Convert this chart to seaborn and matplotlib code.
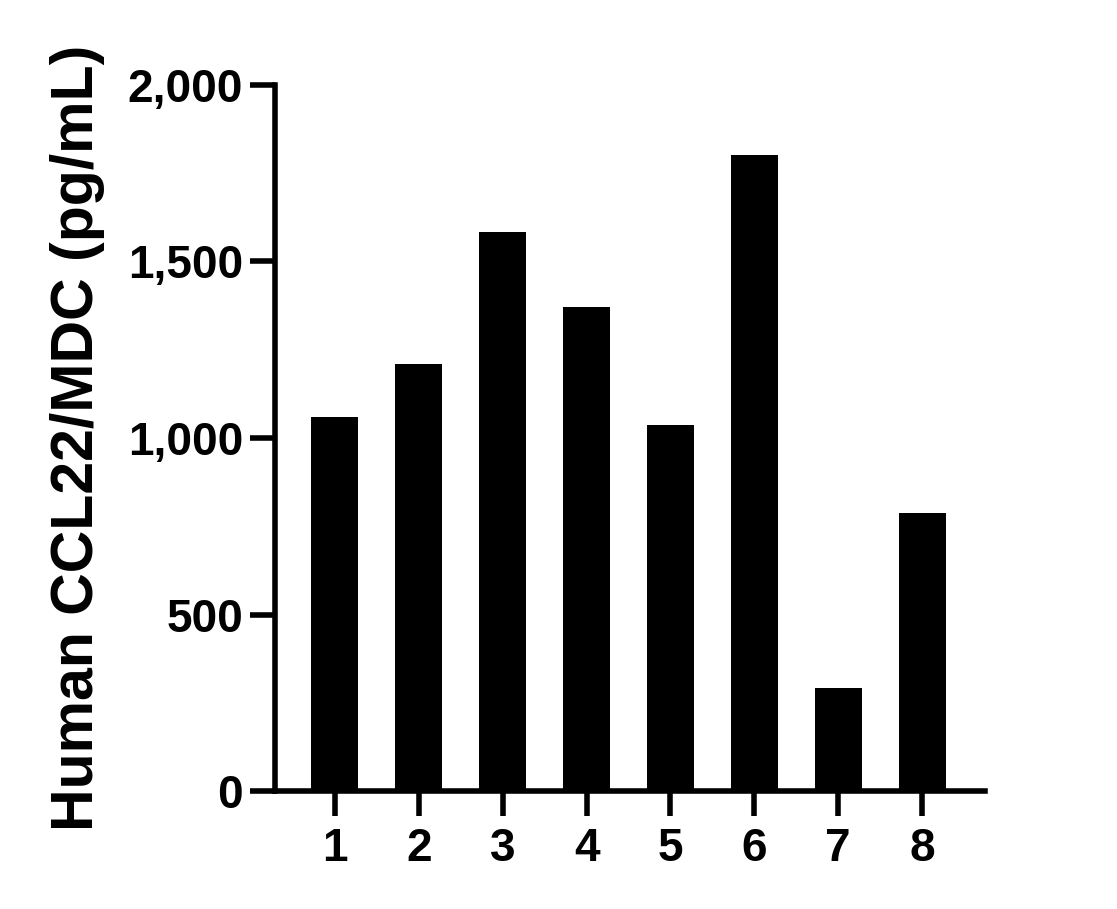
import matplotlib
matplotlib.use('Agg')
import matplotlib.pyplot as plt
import seaborn as sns
import pandas as pd
from matplotlib.ticker import FuncFormatter

# values
samples = ['1', '2', '3', '4', '5', '6', '7', '8']
ccl22 = [1059, 1210, 1584, 1371, 1037, 1802, 292, 788]
y_ticks = [0, 500, 1000, 1500, 2000]

df = pd.DataFrame({'sample': samples, 'conc': ccl22})

sns.set_style('ticks')
plt.rcParams['font.family'] = ['Liberation Sans', 'DejaVu Sans']
plt.rcParams['font.weight'] = 'bold'
plt.rcParams['text.color'] = 'black'
plt.rcParams['axes.labelcolor'] = 'black'
plt.rcParams['xtick.color'] = 'black'
plt.rcParams['ytick.color'] = 'black'

fig = plt.figure(figsize=(11.17, 9.09), dpi=100)
ax = fig.add_axes([0.2462, 0.1298, 0.6356, 0.7767])

sns.barplot(data=df, x='sample', y='conc', color='black', width=0.56,
            saturation=1, edgecolor='black', linewidth=0, ax=ax)

ax.set_ylim(0, 2000)
ax.set_xlim(-0.715, 7.75)
ax.set_yticks(y_ticks)
ax.yaxis.set_major_formatter(FuncFormatter(lambda v, p: f'{int(v):,}'))

for side in ['top', 'right']:
    ax.spines[side].set_visible(False)
for side in ['left', 'bottom']:
    ax.spines[side].set_linewidth(4)
    ax.spines[side].set_color('black')

ax.tick_params(axis='both', length=18, width=4, colors='black', labelsize=33)
ax.tick_params(axis='y', pad=5)
ax.tick_params(axis='x', pad=8)
for lab in ax.get_xticklabels() + ax.get_yticklabels():
    lab.set_fontweight('bold')

ax.set_xlabel('')
ax.set_ylabel('Human CCL22/MDC (pg/mL)', fontsize=42.5, fontweight='bold',
              color='black', labelpad=16)

fig.savefig('out.png', dpi=100)
